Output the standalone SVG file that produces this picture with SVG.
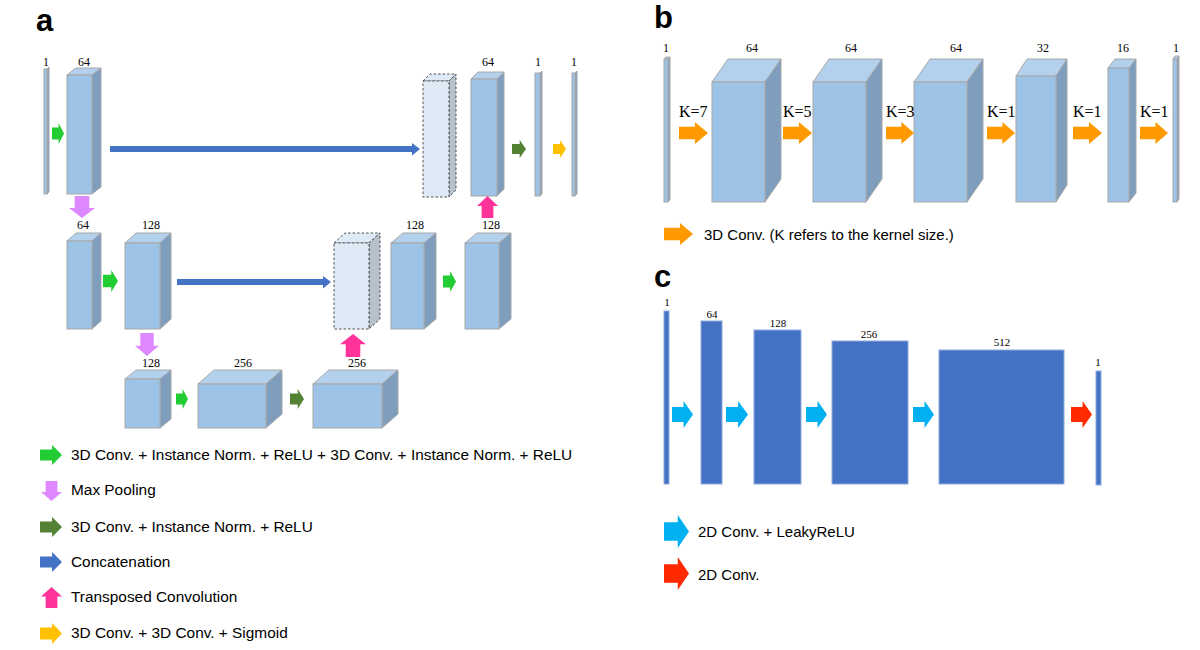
<svg xmlns="http://www.w3.org/2000/svg" xmlns:xlink="http://www.w3.org/1999/xlink" width="1200" height="650" viewBox="0 0 1200 650">
<style>
.fr{fill:#9dc3e6;stroke:#a8a8a8;stroke-width:1}
.tp{fill:#b3d0ec;stroke:#a8a8a8;stroke-width:1}
.sd{fill:#7f9ebd;stroke:#a8a8a8;stroke-width:1}
.dfr{fill:#deebf7;stroke:#404040;stroke-width:0.9;stroke-dasharray:2.5,2}
.dtp{fill:#deebf7;stroke:#404040;stroke-width:0.9;stroke-dasharray:2.5,2}
.dsd{fill:#b6c1cc;stroke:#404040;stroke-width:0.9;stroke-dasharray:2.5,2}
.flat{fill:#4472c4;stroke:#8faadc;stroke-width:1}
.num{font-family:"Liberation Serif","Times New Roman",serif;font-size:12px;fill:#000;text-anchor:middle}
.k{font-family:"Liberation Serif","Times New Roman",serif;font-size:16px;fill:#000}
.leg{font-family:"Liberation Sans",Arial,sans-serif;font-size:15px;fill:#000}
.lega{font-family:"Liberation Sans",Arial,sans-serif;font-size:15.4px;fill:#000}
.pl{font-family:"Liberation Sans",Arial,sans-serif;font-size:31px;font-weight:bold;fill:#000}
.g{fill:#22cc33}.dg{fill:#548235}.bl{fill:#4472c4}.pd{fill:#dd88ff}.pu{fill:#ff3399}.ye{fill:#ffc000}.or{fill:#ff9900}.cy{fill:#00b0f0}.rd{fill:#ff2a00}
</style>
<defs>
<path id="ar" d="M0,0.22 H0.55 V0 L1,0.5 L0.55,1 V0.78 H0 Z"/>
</defs>
<rect width="1200" height="650" fill="#fff"/>

<!-- panel labels -->
<text class="pl" x="36" y="31">a</text>
<text class="pl" x="654" y="28">b</text>
<text class="pl" x="654" y="287">c</text>

<!-- ===== Panel a nodes ===== -->
<g id="a_in">
<polygon class="sd" points="47,69 49,67 49,192 47,194"/>
<rect class="fr" x="44" y="69" width="3" height="125"/>
<text class="num" x="46" y="66">1</text>
</g>
<g id="a_e1">
<polygon class="tp" points="67,75 76,68 101,68 92,75"/>
<polygon class="sd" points="92,75 101,68 101,187 92,194"/>
<rect class="fr" x="67" y="75" width="25" height="119"/>
<text class="num" x="84" y="66">64</text>
</g>
<g id="a_cat1">
<polygon class="dtp" points="423,81 430,74 456,74 449,81"/>
<polygon class="dsd" points="449,81 456,74 456,190 449,197"/>
<rect class="dfr" x="423" y="81" width="26" height="116"/>
</g>
<g id="a_d1">
<polygon class="tp" points="471,79 478,72 504,72 497,79"/>
<polygon class="sd" points="497,79 504,72 504,189 497,196"/>
<rect class="fr" x="471" y="79" width="26" height="117"/>
<text class="num" x="488" y="66">64</text>
</g>
<g id="a_o1">
<polygon class="sd" points="540,73 542,71 542,194 540,196"/>
<rect class="fr" x="535" y="73" width="5" height="123"/>
<text class="num" x="538" y="66">1</text>
</g>
<g id="a_o2">
<polygon class="sd" points="575,73 577,71 577,194 575,196"/>
<rect class="fr" x="572" y="73" width="3" height="123"/>
<text class="num" x="574" y="66">1</text>
</g>
<g id="a_p1">
<polygon class="tp" points="67,241 76,233 101,233 92,241"/>
<polygon class="sd" points="92,241 101,233 101,321 92,329"/>
<rect class="fr" x="67" y="241" width="25" height="88"/>
<text class="num" x="83" y="229">64</text>
</g>
<g id="a_e2">
<polygon class="tp" points="125,243 136,233 171,233 160,243"/>
<polygon class="sd" points="160,243 171,233 171,319 160,329"/>
<rect class="fr" x="125" y="243" width="35" height="86"/>
<text class="num" x="151" y="229">128</text>
</g>
<g id="a_cat2">
<polygon class="dtp" points="334,243 345,233 380,233 369,243"/>
<polygon class="dsd" points="369,243 380,233 380,319 369,329"/>
<rect class="dfr" x="334" y="243" width="35" height="86"/>
</g>
<g id="a_d2a">
<polygon class="tp" points="391,243 403,233 436,233 424,243"/>
<polygon class="sd" points="424,243 436,233 436,319 424,329"/>
<rect class="fr" x="391" y="243" width="33" height="86"/>
<text class="num" x="415" y="229">128</text>
</g>
<g id="a_d2b">
<polygon class="tp" points="465,243 477,233 511,233 499,243"/>
<polygon class="sd" points="499,243 511,233 511,319 499,329"/>
<rect class="fr" x="465" y="243" width="34" height="86"/>
<text class="num" x="491" y="229">128</text>
</g>
<g id="a_p2">
<polygon class="tp" points="125,379 136,370 171,370 160,379"/>
<polygon class="sd" points="160,379 171,370 171,419 160,428"/>
<rect class="fr" x="125" y="379" width="35" height="49"/>
<text class="num" x="151" y="367">128</text>
</g>
<g id="a_b1">
<polygon class="tp" points="198,384 214,370 282,370 266,384"/>
<polygon class="sd" points="266,384 282,370 282,414 266,428"/>
<rect class="fr" x="198" y="384" width="68" height="44"/>
<text class="num" x="243" y="367">256</text>
</g>
<g id="a_b2">
<polygon class="tp" points="313,384 329,370 398,370 382,384"/>
<polygon class="sd" points="382,384 398,370 398,414 382,428"/>
<rect class="fr" x="313" y="384" width="69" height="44"/>
<text class="num" x="357" y="367">256</text>
</g>

<!-- ===== Panel b nodes ===== -->
<g id="b_in">
<polygon class="tp" points="664,59 666,57 670,57 668,59"/>
<polygon class="sd" points="668,59 670,57 670,200 668,202"/>
<rect class="fr" x="664" y="59" width="4" height="143"/>
<text class="num" x="666" y="52">1</text>
</g>
<g id="b_1">
<polygon class="tp" points="712,82 728,59 781,59 765,82"/>
<polygon class="sd" points="765,82 781,59 781,179 765,202"/>
<rect class="fr" x="712" y="82" width="53" height="120"/>
<text class="num" x="752" y="52">64</text>
</g>
<g id="b_2">
<polygon class="tp" points="813,82 829,59 882,59 866,82"/>
<polygon class="sd" points="866,82 882,59 882,179 866,202"/>
<rect class="fr" x="813" y="82" width="53" height="120"/>
<text class="num" x="851" y="52">64</text>
</g>
<g id="b_3">
<polygon class="tp" points="914,82 930,59 983,59 967,82"/>
<polygon class="sd" points="967,82 983,59 983,179 967,202"/>
<rect class="fr" x="914" y="82" width="53" height="120"/>
<text class="num" x="956" y="52">64</text>
</g>
<g id="b_4">
<polygon class="tp" points="1016,76 1027,59 1067,59 1056,76"/>
<polygon class="sd" points="1056,76 1067,59 1067,185 1056,202"/>
<rect class="fr" x="1016" y="76" width="40" height="126"/>
<text class="num" x="1043" y="52">32</text>
</g>
<g id="b_5">
<polygon class="tp" points="1108,68 1115,59 1136,59 1129,68"/>
<polygon class="sd" points="1129,68 1136,59 1136,193 1129,202"/>
<rect class="fr" x="1108" y="68" width="21" height="134"/>
<text class="num" x="1123" y="52">16</text>
</g>
<g id="b_out">
<polygon class="tp" points="1173,59 1175,56 1179,56 1177,59"/>
<polygon class="sd" points="1177,59 1179,56 1179,199 1177,202"/>
<rect class="fr" x="1173" y="59" width="4" height="143"/>
<text class="num" x="1176" y="52">1</text>
</g>

<!-- ===== Panel c nodes ===== -->
<g id="c_in"><rect class="flat" x="664" y="311" width="5" height="173"/><text class="num" x="667" y="306" style="font-size:11px">1</text></g>
<g id="c_1"><rect class="flat" x="701" y="321" width="21" height="163"/><text class="num" x="712" y="318" style="font-size:11px">64</text></g>
<g id="c_2"><rect class="flat" x="754" y="330" width="47" height="154"/><text class="num" x="778" y="327" style="font-size:11px">128</text></g>
<g id="c_3"><rect class="flat" x="832" y="341" width="76" height="143"/><text class="num" x="869" y="338" style="font-size:11px">256</text></g>
<g id="c_4"><rect class="flat" x="939" y="350" width="125" height="134"/><text class="num" x="1002" y="346" style="font-size:11px">512</text></g>
<g id="c_out"><rect class="flat" x="1096" y="371" width="5" height="114"/><text class="num" x="1098" y="366" style="font-size:11px">1</text></g>

<!-- ===== Connectors ===== -->
<g id="connectors">
<!-- panel a -->
<use xlink:href="#ar" class="g" transform="translate(52,123) scale(12,21)"/>
<use xlink:href="#ar" class="dg" transform="translate(512,140) scale(14,18)"/>
<use xlink:href="#ar" class="ye" transform="translate(553,140) scale(13,18)"/>
<use xlink:href="#ar" class="g" transform="translate(103,270) scale(15,22)"/>
<use xlink:href="#ar" class="g" transform="translate(443,271) scale(13,21)"/>
<use xlink:href="#ar" class="g" transform="translate(176,389) scale(12,20)"/>
<use xlink:href="#ar" class="dg" transform="translate(290,389) scale(14,20)"/>
<use xlink:href="#ar" class="pd" transform="translate(95,196) rotate(90) scale(22,26)"/>
<use xlink:href="#ar" class="pd" transform="translate(159,333) rotate(90) scale(23,24)"/>
<use xlink:href="#ar" class="pu" transform="translate(477,218) rotate(-90) scale(22,21)"/>
<use xlink:href="#ar" class="pu" transform="translate(340,357) rotate(-90) scale(23,26)"/>
<path class="bl" d="M110,146 H412 V143 L420,149 L412,155.5 V152 H110 Z"/>
<path class="bl" d="M177,279 H323 V276 L331,282 L323,288.5 V285 H177 Z"/>
<!-- panel b -->
<use xlink:href="#ar" class="or" transform="translate(679,122) scale(29,22)"/>
<use xlink:href="#ar" class="or" transform="translate(783,122) scale(29,22)"/>
<use xlink:href="#ar" class="or" transform="translate(886,122) scale(28,22)"/>
<use xlink:href="#ar" class="or" transform="translate(987,122) scale(28,22)"/>
<use xlink:href="#ar" class="or" transform="translate(1073,122) scale(29,22)"/>
<use xlink:href="#ar" class="or" transform="translate(1140,122) scale(28,22)"/>
<text class="k" x="679" y="117">K=7</text>
<text class="k" x="783" y="117">K=5</text>
<text class="k" x="886" y="117">K=3</text>
<text class="k" x="987" y="117">K=1</text>
<text class="k" x="1073" y="117">K=1</text>
<text class="k" x="1140" y="117">K=1</text>
<!-- panel c -->
<use xlink:href="#ar" class="cy" transform="translate(672,401) scale(21,27)"/>
<use xlink:href="#ar" class="cy" transform="translate(726,401) scale(22,27)"/>
<use xlink:href="#ar" class="cy" transform="translate(806,401) scale(21,27)"/>
<use xlink:href="#ar" class="cy" transform="translate(913,401) scale(21,27)"/>
<use xlink:href="#ar" class="rd" transform="translate(1071,401) scale(21,27)"/>
</g>

<!-- ===== Legends ===== -->
<g id="legend_a">
<use xlink:href="#ar" class="g" transform="translate(40,445) scale(22,20)"/>
<text class="lega" x="71" y="460">3D Conv. + Instance Norm. + ReLU + 3D Conv. + Instance Norm. + ReLU</text>
<use xlink:href="#ar" class="pd" transform="translate(62,481) rotate(90) scale(20,21)"/>
<text class="lega" x="71" y="495">Max Pooling</text>
<use xlink:href="#ar" class="dg" transform="translate(40,517) scale(22,20)"/>
<text class="lega" x="71" y="532">3D Conv. + Instance Norm. + ReLU</text>
<use xlink:href="#ar" class="bl" transform="translate(40,552) scale(22,20)"/>
<text class="lega" x="71" y="567">Concatenation</text>
<use xlink:href="#ar" class="pu" transform="translate(41,608) rotate(-90) scale(21,21)"/>
<text class="lega" x="71" y="602">Transposed Convolution</text>
<use xlink:href="#ar" class="ye" transform="translate(40,623) scale(22,21)"/>
<text class="lega" x="71" y="638">3D Conv. + 3D Conv. + Sigmoid</text>
</g>
<g id="legend_b">
<use xlink:href="#ar" class="or" transform="translate(664,223) scale(29,22)"/>
<text class="leg" x="704" y="240">3D Conv. (K refers to the kernel size.)</text>
</g>
<g id="legend_c">
<use xlink:href="#ar" class="cy" transform="translate(664,515) scale(25,33)"/>
<text class="leg" x="698" y="537">2D Conv. + LeakyReLU</text>
<use xlink:href="#ar" class="rd" transform="translate(664,557) scale(25,33)"/>
<text class="leg" x="698" y="580">2D Conv.</text>
</g>
</svg>
